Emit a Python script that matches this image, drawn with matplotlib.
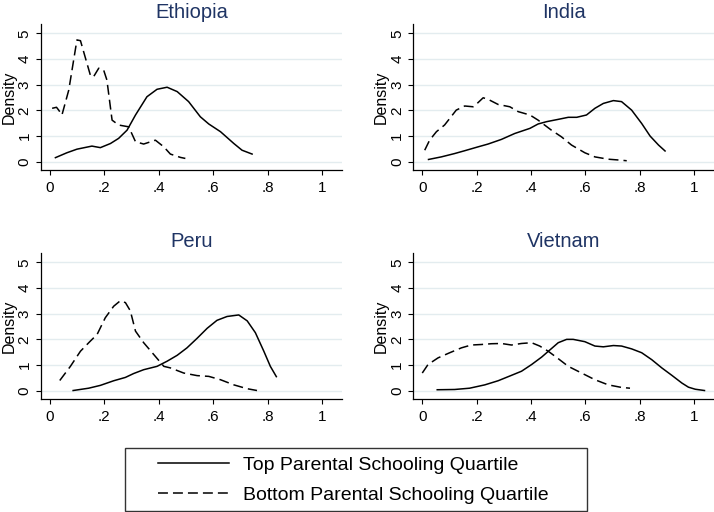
import matplotlib
matplotlib.use('Agg')
import matplotlib.pyplot as plt
from matplotlib.patches import Rectangle

countries = ['Ethiopia', 'India', 'Peru', 'Vietnam']
series_labels = ['Top Parental Schooling Quartile', 'Bottom Parental Schooling Quartile']
x_ticks = [0, 0.2, 0.4, 0.6, 0.8, 1.0]
x_tick_labels = ['0', '.2', '.4', '.6', '.8', '1']
y_ticks = [0, 1, 2, 3, 4, 5]

# Ethiopia
eth_top_x = [0.021, 0.063, 0.10, 0.155, 0.186, 0.223, 0.253, 0.284, 0.315, 0.357, 0.394, 0.431,
             0.468, 0.510, 0.553, 0.584, 0.627, 0.676, 0.706, 0.743]
eth_top_y = [0.16, 0.35, 0.49, 0.61, 0.55, 0.71, 0.91, 1.23, 1.82, 2.53, 2.82, 2.90,
             2.73, 2.34, 1.75, 1.47, 1.17, 0.71, 0.45, 0.30]
eth_bot_x = [0.009, 0.025, 0.033, 0.045, 0.07, 0.10, 0.113, 0.149, 0.16, 0.18, 0.198, 0.21, 0.229,
             0.253, 0.29, 0.315, 0.345, 0.388, 0.419, 0.443, 0.48, 0.498]
eth_bot_y = [2.08, 2.12, 2.01, 1.82, 2.79, 4.74, 4.71, 3.38, 3.29, 3.64, 3.57, 3.18, 1.62,
             1.43, 1.36, 0.78, 0.69, 0.84, 0.58, 0.30, 0.17, 0.13]

# India
ind_top_x = [0.023, 0.07, 0.119, 0.156, 0.205, 0.242, 0.291, 0.34, 0.396, 0.426, 0.457, 0.5,
             0.537, 0.568, 0.604, 0.635, 0.666, 0.703, 0.733, 0.77, 0.807, 0.838, 0.869, 0.893]
ind_top_y = [0.09, 0.19, 0.32, 0.43, 0.58, 0.69, 0.87, 1.10, 1.30, 1.47, 1.56, 1.65,
             1.73, 1.73, 1.82, 2.08, 2.27, 2.38, 2.34, 2.01, 1.49, 1.0, 0.65, 0.42]
ind_bot_x = [0.009, 0.027, 0.052, 0.082, 0.125, 0.156, 0.187, 0.205, 0.224, 0.242, 0.279, 0.322,
             0.353, 0.396, 0.426, 0.475, 0.512, 0.549, 0.598, 0.635, 0.684, 0.733, 0.752]
ind_bot_y = [0.45, 0.84, 1.17, 1.43, 2.01, 2.17, 2.14, 2.30, 2.49, 2.43, 2.23, 2.14,
             1.95, 1.82, 1.62, 1.23, 0.97, 0.65, 0.35, 0.19, 0.10, 0.06, 0.04]

# Peru
per_top_x = [0.086, 0.143, 0.186, 0.235, 0.278, 0.308, 0.345, 0.394, 0.431, 0.468, 0.504, 0.541,
             0.578, 0.614, 0.651, 0.694, 0.725, 0.755, 0.786, 0.81, 0.832]
per_top_y = [0.01, 0.10, 0.21, 0.39, 0.52, 0.67, 0.82, 0.95, 1.15, 1.38, 1.67, 2.04,
             2.43, 2.74, 2.89, 2.95, 2.72, 2.26, 1.54, 0.95, 0.55]
per_bot_x = [0.037, 0.076, 0.113, 0.149, 0.174, 0.204, 0.235, 0.259, 0.278, 0.296, 0.315, 0.345,
             0.382, 0.419, 0.443, 0.492, 0.541, 0.584, 0.627, 0.676, 0.725, 0.761]
per_bot_y = [0.40, 0.95, 1.54, 1.93, 2.19, 2.84, 3.29, 3.50, 3.43, 3.11, 2.32, 1.87,
             1.41, 0.95, 0.89, 0.69, 0.59, 0.56, 0.43, 0.23, 0.08, 0.01]

# Vietnam
vie_top_x = [0.055, 0.119, 0.174, 0.23, 0.279, 0.328, 0.365, 0.402, 0.439, 0.475, 0.5, 0.531,
             0.555, 0.598, 0.635, 0.666, 0.703, 0.733, 0.77, 0.807, 0.844, 0.881, 0.918, 0.955,
             0.979, 1.004, 1.038]
vie_top_y = [0.04, 0.05, 0.10, 0.23, 0.39, 0.60, 0.76, 1.02, 1.31, 1.64, 1.87, 2.0,
             2.0, 1.91, 1.74, 1.71, 1.76, 1.74, 1.63, 1.48, 1.21, 0.89, 0.60, 0.30,
             0.14, 0.06, 0.01]
vie_bot_x = [0.0, 0.021, 0.058, 0.101, 0.144, 0.18, 0.217, 0.254, 0.291, 0.328, 0.365, 0.402,
             0.432, 0.463, 0.5, 0.537, 0.586, 0.635, 0.684, 0.733, 0.764]
vie_bot_y = [0.69, 1.02, 1.28, 1.48, 1.67, 1.78, 1.80, 1.83, 1.84, 1.78, 1.84, 1.87,
             1.74, 1.54, 1.25, 0.95, 0.69, 0.43, 0.23, 0.13, 0.10]

curves = {
    'Ethiopia': ((eth_top_x, eth_top_y), (eth_bot_x, eth_bot_y)),
    'India': ((ind_top_x, ind_top_y), (ind_bot_x, ind_bot_y)),
    'Peru': ((per_top_x, per_top_y), (per_bot_x, per_bot_y)),
    'Vietnam': ((vie_top_x, vie_top_y), (vie_bot_x, vie_bot_y)),
}

W, H = 714, 512
TITLE_COLOR = '#1f3464'
GRID_COLOR = '#e3ecef'
DASH = (0, (6.5, 3.3))


def frac(x0, y0, x1, y1):
    # pixel box (top-left origin) -> figure fractions
    return [x0 / W, 1 - y1 / H, (x1 - x0) / W, (y1 - y0) / H]


def draw_panel(ax, name):
    (tx, ty), (bx, by) = curves[name]
    top_line, = ax.plot(tx, ty, color='black', lw=1.1, solid_joinstyle='round')
    bot_line, = ax.plot(bx, by, color='black', lw=1.1, linestyle=DASH)
    ax.set_xlim(-0.033, 1.073)
    ax.set_ylim(-0.32, 5.36)
    ax.set_xticks(x_ticks)
    ax.set_xticklabels(x_tick_labels)
    ax.set_yticks(y_ticks)
    ax.set_yticklabels([str(v) for v in y_ticks], rotation=90, va='center')
    ax.yaxis.grid(True, color=GRID_COLOR, lw=1.0)
    ax.set_axisbelow(True)
    for side in ('top', 'right'):
        ax.spines[side].set_visible(False)
    for side in ('left', 'bottom'):
        ax.spines[side].set_linewidth(0.9)
    ax.tick_params(direction='out', length=3.5, width=0.8, labelsize=11)
    ax.tick_params(axis='x', pad=4.5)
    ax.tick_params(axis='y', pad=3)
    ax.set_ylabel('Density', fontsize=11.5, labelpad=1)
    ax.set_title(name, fontsize=14.5, color=TITLE_COLOR, pad=4)
    return top_line, bot_line


def main():
    plt.rcParams['font.family'] = ['Liberation Sans', 'DejaVu Sans']
    fig = plt.figure(figsize=(W / 100, H / 100), dpi=100)

    boxes = {
        'Ethiopia': frac(40.7, 24, 342, 170),
        'India': frac(413.3, 24, 714, 170),
        'Peru': frac(40.7, 253, 342, 399),
        'Vietnam': frac(413.3, 253, 714, 399),
    }
    handles = None
    for name in countries:
        ax = fig.add_axes(boxes[name])
        handles = draw_panel(ax, name)

    fig.patches.append(Rectangle((125 / W, 1 - 511 / H), 462 / W, 63 / H, transform=fig.transFigure,
                                 fill=False, edgecolor='#333333', lw=1.0))
    fig.legend(handles, series_labels, loc='center left', bbox_to_anchor=(142 / W, 1 - 480 / H),
               frameon=False, fontsize=14, handlelength=3.65, handletextpad=0.72,
               labelspacing=0.65, borderpad=0.3)

    fig.savefig('out.png', dpi=100, facecolor='white')


if __name__ == '__main__':
    main()
